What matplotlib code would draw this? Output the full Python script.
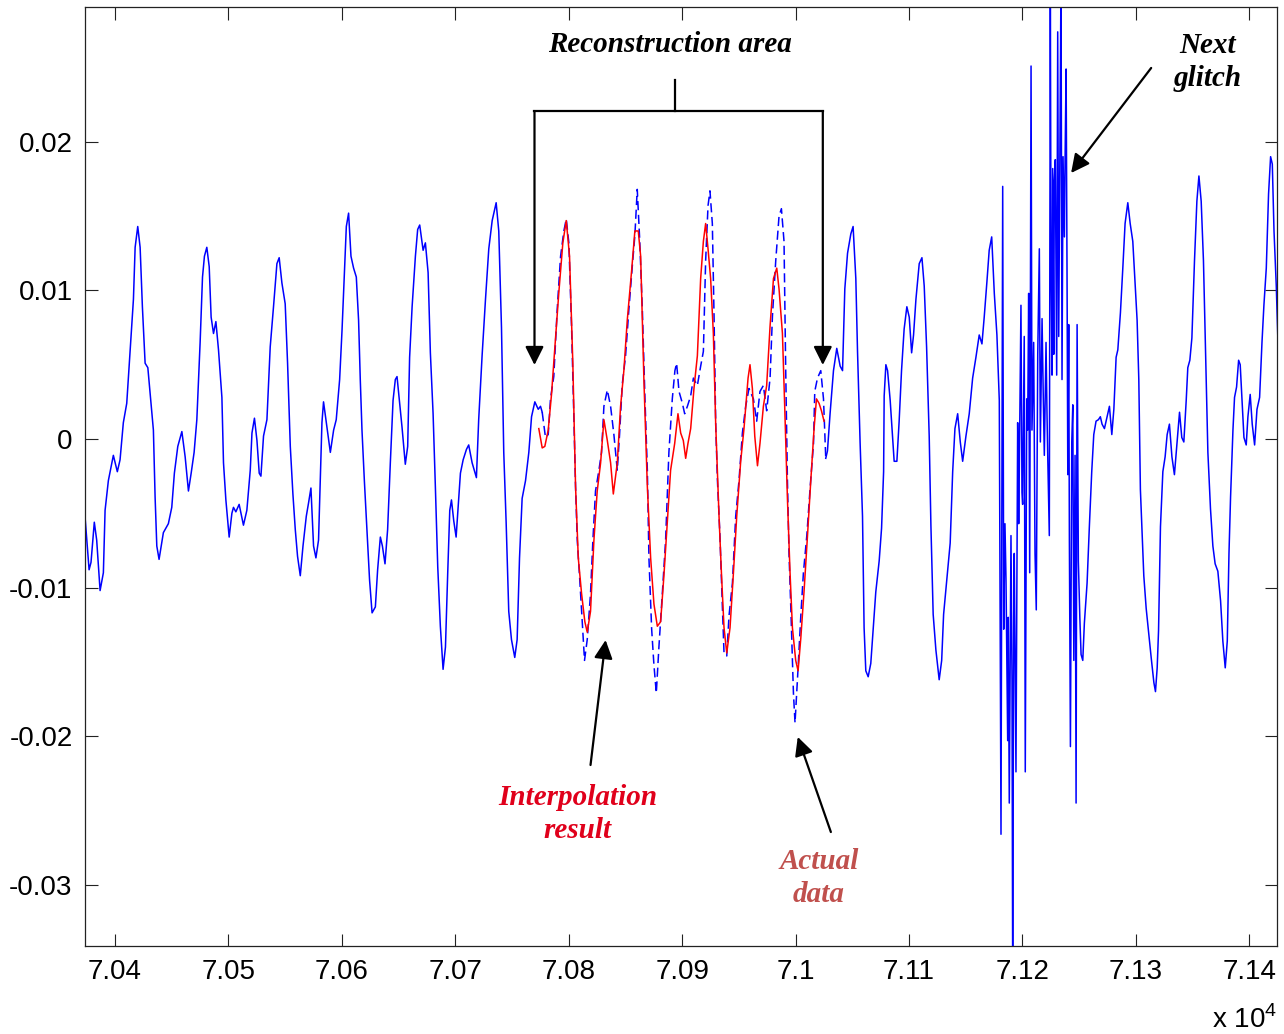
import matplotlib
matplotlib.use('Agg')
import matplotlib.pyplot as plt
from matplotlib.ticker import FuncFormatter

plt.rcParams['font.family'] = ['Liberation Sans', 'DejaVu Sans']
plt.rcParams['axes.unicode_minus'] = False
plt.rcParams['mathtext.fontset'] = 'custom'
plt.rcParams['mathtext.rm'] = 'Liberation Sans'

# measured signal before the reconstruction area
t_pre = [70373.5, 70377.1, 70378.8, 70381.7, 70383.8, 70386.8, 70389.7, 70391.2, 70394.1, 70398.5,
         70402.0, 70404.4, 70407.3, 70410.3, 70413.2, 70416.2, 70417.7, 70420.0, 70422.1, 70424.1,
         70426.5, 70428.9, 70430.9, 70433.8, 70435.3, 70436.8, 70438.8, 70442.6, 70447.0, 70450.0,
         70452.3, 70455.3, 70458.9, 70461.8, 70464.7, 70467.1, 70469.7, 70472.1, 70475.0, 70477.1,
         70478.8, 70480.9, 70483.0, 70484.7, 70486.8, 70488.9, 70491.2, 70494.2, 70495.6, 70497.7,
         70500.6, 70503.0, 70504.4, 70506.5, 70509.4, 70513.2, 70516.2, 70519.2, 70520.7, 70522.9,
         70525.1, 70527.1, 70528.6, 70530.9, 70533.9, 70536.8, 70539.7, 70542.7, 70544.7, 70547.1,
         70550.0, 70552.1, 70554.5, 70556.8, 70558.9, 70560.9, 70563.3, 70565.7, 70568.6, 70570.6,
         70572.7, 70575.0, 70577.1, 70579.4, 70580.9, 70582.4, 70583.8, 70586.8, 70589.8, 70592.7,
         70595.0, 70598.0, 70600.1, 70602.1, 70603.9, 70605.9, 70608.0, 70610.3, 70612.7, 70614.7,
         70616.2, 70617.7, 70619.8, 70622.1, 70624.4, 70626.6, 70629.5, 70631.5, 70633.9, 70635.7,
         70638.0, 70640.3, 70642.7, 70645.1, 70647.1, 70648.6, 70650.9, 70653.0, 70655.9, 70658.0,
         70659.7, 70661.9, 70664.8, 70666.8, 70668.6, 70671.6, 70673.6, 70676.0, 70678.0, 70680.4,
         70682.4, 70684.5, 70686.8, 70689.2, 70691.3, 70693.3, 70695.1, 70696.6, 70698.6, 70700.7,
         70702.5, 70704.5, 70706.9, 70709.8, 70711.8, 70714.8, 70718.6, 70720.6, 70723.6, 70726.6,
         70729.5, 70732.5, 70736.0, 70738.3, 70740.7, 70742.7, 70744.8, 70747.1, 70749.5, 70752.4,
         70754.5, 70756.6, 70758.9, 70761.9, 70764.8, 70767.2, 70770.1, 70773.1, 70775.1, 70776.6]
v_pre = [-0.0052, -0.0088, -0.0083, -0.0056, -0.0068, -0.0102, -0.0090, -0.0048, -0.0028, -0.0011,
         -0.0022, -0.0014, 0.0011, 0.0024, 0.0058, 0.0094, 0.0129, 0.0143, 0.0129, 0.0089,
         0.0051, 0.0048, 0.0031, 0.0006, -0.0039, -0.0072, -0.0081, -0.0063, -0.0057, -0.0046,
         -0.0023, -0.0005, 0.0005, -0.0012, -0.0035, -0.0023, -0.0009, 0.0013, 0.0065, 0.0109,
         0.0123, 0.0129, 0.0116, 0.0082, 0.0071, 0.0079, 0.0060, 0.0028, -0.0016, -0.0041,
         -0.0066, -0.0050, -0.0046, -0.0049, -0.0044, -0.0058, -0.0048, -0.0021, 0.0004, 0.0014,
         -0.0001, -0.0023, -0.0025, 0.0002, 0.0013, 0.0062, 0.0089, 0.0118, 0.0122, 0.0105,
         0.0091, 0.0051, -0.0005, -0.0037, -0.0061, -0.0079, -0.0092, -0.0072, -0.0052, -0.0043,
         -0.0033, -0.0072, -0.0080, -0.0068, -0.0028, 0.0011, 0.0025, 0.0008, -0.0009, 0.0006,
         0.0013, 0.0040, 0.0073, 0.0109, 0.0143, 0.0152, 0.0123, 0.0115, 0.0109, 0.0080,
         0.0040, 0.0006, -0.0028, -0.0061, -0.0095, -0.0117, -0.0113, -0.0088, -0.0066, -0.0072,
         -0.0084, -0.0061, -0.0016, 0.0026, 0.0040, 0.0042, 0.0024, 0.0008, -0.0017, -0.0005,
         0.0055, 0.0089, 0.0123, 0.0141, 0.0144, 0.0127, 0.0132, 0.0112, 0.0058, 0.0017,
         -0.0032, -0.0086, -0.0126, -0.0155, -0.0140, -0.0090, -0.0048, -0.0041, -0.0055, -0.0066,
         -0.0046, -0.0023, -0.0014, -0.0007, -0.0004, -0.0016, -0.0026, 0.0013, 0.0056, 0.0094,
         0.0128, 0.0147, 0.0159, 0.0140, 0.0075, -0.0009, -0.0056, -0.0116, -0.0135, -0.0147,
         -0.0135, -0.0080, -0.0040, -0.0028, -0.0009, 0.0015, 0.0025, 0.0020, 0.0022, 0.0018]

# actual data inside the reconstruction area
t_gap = [70776.6, 70779.5, 70781.9, 70783.9, 70786.8, 70789.8, 70792.8, 70795.7, 70797.8, 70800.1,
         70802.5, 70804.5, 70806.0, 70807.5, 70809.5, 70811.9, 70813.9, 70816.3, 70819.2, 70821.3,
         70823.6, 70826.6, 70828.9, 70831.0, 70834.0, 70836.9, 70839.8, 70842.8, 70844.8, 70847.2,
         70850.1, 70853.0, 70856.0, 70858.3, 70860.4, 70862.5, 70864.9, 70867.2, 70869.3, 70870.7,
         70873.1, 70875.1, 70877.2, 70879.5, 70882.5, 70885.4, 70888.3, 70891.3, 70893.6, 70895.1,
         70897.2, 70900.2, 70902.2, 70904.6, 70907.5, 70909.9, 70913.4, 70916.3, 70918.7, 70920.7,
         70922.8, 70924.5, 70926.6, 70928.1, 70929.6, 70931.1, 70933.3, 70935.5, 70936.9, 70939.3,
         70941.3, 70944.3, 70947.2, 70950.1, 70953.1, 70956.0, 70958.9, 70962.8, 70965.7, 70968.6,
         70971.6, 70974.5, 70977.5, 70979.6, 70982.5, 70985.4, 70987.5, 70989.8, 70991.3, 70992.8,
         70994.2, 70995.8, 70998.1, 70999.5, 71001.7, 71004.6, 71006.9, 71009.9, 71012.8, 71015.8,
         71016.9, 71019.3, 71022.2, 71024.6, 71026.6]
v_gap = [0.0018, 0.0001, 0.0003, 0.0027, 0.0042, 0.0087, 0.0123, 0.0140, 0.0148, 0.0132,
         0.0075, 0.0015, -0.0032, -0.0068, -0.0092, -0.0123, -0.0149, -0.0135, -0.0104, -0.0068,
         -0.0035, -0.0021, -0.0009, 0.0022, 0.0033, 0.0022, 0.0003, -0.0021, 0.0003, 0.0037,
         0.0056, 0.0087, 0.0116, 0.0137, 0.0168, 0.0135, 0.0087, 0.0027, -0.0021, -0.0080,
         -0.0128, -0.0152, -0.0171, -0.0140, -0.0104, -0.0068, -0.0009, 0.0027, 0.0046, 0.0051,
         0.0032, 0.0024, 0.0017, 0.0022, 0.0029, 0.0041, 0.0036, 0.0049, 0.0059, 0.0120,
         0.0157, 0.0167, 0.0145, 0.0083, 0.0009, -0.0028, -0.0065, -0.0114, -0.0144, -0.0146,
         -0.0119, -0.0097, -0.0052, -0.0028, 0.0004, 0.0022, 0.0034, 0.0027, 0.0012, 0.0032,
         0.0036, 0.0019, 0.0041, 0.0083, 0.0120, 0.0150, 0.0155, 0.0133, 0.0046, -0.0028,
         -0.0077, -0.0114, -0.0171, -0.0191, -0.0161, -0.0119, -0.0090, -0.0065, -0.0033, -0.0003,
         0.0032, 0.0041, 0.0046, 0.0027, -0.0013]

# measured signal after the reconstruction area, including the next glitch
t_post = [71026.6, 71028.1, 71030.4, 71033.4, 71036.3, 71039.3, 71041.4, 71043.4, 71045.8, 71048.7,
          71050.7, 71053.1, 71054.6, 71056.9, 71059.0, 71060.4, 71061.9, 71064.0, 71066.3, 71068.7,
          71070.7, 71073.7, 71075.8, 71077.6, 71078.1, 71079.6, 71081.1, 71083.4, 71085.5, 71086.9,
          71089.3, 71091.3, 71093.4, 71095.7, 71098.1, 71100.2, 71102.3, 71104.0, 71106.1, 71109.0,
          71111.4, 71113.4, 71115.5, 71117.8, 71119.3, 71121.3, 71123.7, 71126.6, 71128.8, 71130.5,
          71133.4, 71136.3, 71138.5, 71140.5, 71142.9, 71145.2, 71147.3, 71150.2, 71153.1, 71156.1,
          71159.0, 71161.9, 71164.3, 71166.3, 71168.7, 71170.7, 71172.9, 71175.2, 71177.5, 71179.6,
          71181.1, 71182.6, 71183.5, 71184.6, 71185.5, 71187.0, 71187.5, 71188.4, 71189.9, 71190.8,
          71191.4, 71192.3, 71192.8, 71194.3, 71195.2, 71195.8, 71196.7, 71197.2, 71198.7, 71199.6,
          71200.2, 71201.6, 71202.5, 71203.8, 71204.6, 71205.5, 71206.4, 71207.6, 71208.4, 71209.9,
          71211.1, 71212.2, 71213.5, 71214.9, 71215.8, 71217.3, 71218.4, 71219.3, 71220.8, 71221.7,
          71222.3, 71223.7, 71224.6, 71225.2, 71226.1, 71226.7, 71227.6, 71228.1, 71229.0, 71230.2,
          71231.1, 71232.0, 71233.1, 71234.0, 71234.9, 71235.8, 71237.0, 71237.6, 71238.5, 71239.3,
          71240.0, 71240.8, 71241.4, 71242.3, 71243.5, 71244.4, 71245.3, 71246.4, 71247.3, 71248.2,
          71249.3, 71250.6, 71251.7, 71253.2, 71254.6, 71257.0, 71259.0, 71261.1, 71262.9, 71264.9,
          71267.0, 71268.7, 71270.2, 71272.3, 71274.6, 71276.7, 71278.8, 71280.6, 71282.6, 71284.1,
          71286.4, 71288.5, 71290.5, 71292.9, 71295.0, 71297.3, 71299.4, 71301.1, 71302.6, 71304.0,
          71305.3, 71307.0, 71309.1, 71311.1, 71313.5, 71315.9, 71317.3, 71318.8, 71320.0, 71321.7,
          71323.8, 71325.8, 71327.6, 71329.6, 71331.8, 71334.0, 71336.4, 71338.5, 71340.5, 71342.3,
          71344.4, 71345.8, 71347.6, 71349.4, 71351.7, 71353.8, 71355.6, 71357.6, 71359.6, 71362.0,
          71363.5, 71365.8, 71367.9, 71369.9, 71372.3, 71374.7, 71376.7, 71378.8, 71380.6, 71382.1,
          71383.5, 71385.6, 71387.0, 71388.8, 71390.6, 71392.0, 71393.5, 71395.3, 71397.3, 71398.8,
          71400.8, 71402.6, 71404.7, 71406.8, 71409.1, 71411.2, 71412.9, 71415.0, 71417.0, 71418.8,
          71420.3, 71421.8, 71423.8, 71425.3]
v_post = [-0.0013, -0.0008, 0.0017, 0.0046, 0.0061, 0.0049, 0.0046, 0.0101, 0.0125, 0.0138,
          0.0143, 0.0108, 0.0059, -0.0003, -0.0052, -0.0127, -0.0156, -0.0160, -0.0151, -0.0125,
          -0.0103, -0.0082, -0.0060, -0.0022, 0.0029, 0.0050, 0.0046, 0.0026, 0.0002, -0.0015,
          -0.0015, 0.0012, 0.0046, 0.0074, 0.0089, 0.0082, 0.0058, 0.0070, 0.0094, 0.0118,
          0.0122, 0.0103, 0.0062, 0.0002, -0.0058, -0.0118, -0.0142, -0.0162, -0.0149, -0.0118,
          -0.0094, -0.0070, -0.0022, 0.0007, 0.0017, -0.0002, -0.0015, 0.0002, 0.0017, 0.0041,
          0.0055, 0.0070, 0.0064, 0.0082, 0.0106, 0.0127, 0.0136, 0.0098, 0.0070, 0.0026,
          -0.0266, 0.0170, -0.0128, -0.0057, -0.0094, -0.0203, -0.0120, -0.0245, -0.0065, -0.0162,
          -0.0360, -0.0120, -0.0077, -0.0224, -0.0077, 0.0011, -0.0057, -0.0024, 0.0090, -0.0036,
          -0.0044, 0.0069, -0.0224, 0.0027, 0.0006, 0.0098, -0.0090, 0.0251, 0.0006, 0.0065,
          -0.0077, -0.0115, 0.0057, 0.0128, -0.0002, 0.0081, 0.0027, -0.0011, 0.0065, 0.0015,
          -0.0011, -0.0065, 0.0295, 0.0124, 0.0043, 0.0182, 0.0057, 0.0174, 0.0188, 0.0043,
          0.0274, 0.0069, 0.0203, 0.0310, 0.0040, 0.0190, 0.0136, 0.0188, 0.0249, 0.0115,
          -0.0024, 0.0077, -0.0069, -0.0207, -0.0002, 0.0023, -0.0149, -0.0011, -0.0245, 0.0077,
          -0.0082, -0.0120, -0.0145, -0.0149, -0.0124, -0.0097, -0.0059, -0.0022, 0.0003, 0.0012,
          0.0013, 0.0015, 0.0010, 0.0007, 0.0015, 0.0022, 0.0003, 0.0020, 0.0055, 0.0060,
          0.0085, 0.0115, 0.0145, 0.0159, 0.0145, 0.0133, 0.0103, 0.0080, 0.0040, -0.0034,
          -0.0059, -0.0092, -0.0114, -0.0129, -0.0147, -0.0164, -0.0170, -0.0154, -0.0129, -0.0059,
          -0.0022, -0.0012, 0.0003, 0.0010, -0.0012, -0.0024, -0.0002, 0.0018, 0.0001, -0.0002,
          0.0026, 0.0048, 0.0053, 0.0068, 0.0120, 0.0160, 0.0177, 0.0160, 0.0120, 0.0040,
          -0.0009, -0.0047, -0.0072, -0.0084, -0.0089, -0.0109, -0.0136, -0.0154, -0.0136, -0.0077,
          -0.0039, 0.0006, 0.0028, 0.0035, 0.0053, 0.0050, 0.0028, 0.0001, -0.0004, 0.0015,
          0.0030, 0.0010, -0.0004, 0.0020, 0.0028, 0.0065, 0.0090, 0.0115, 0.0165, 0.0190,
          0.0185, 0.0140, 0.0103, 0.0065]

# interpolated reconstruction
t_interp = [70773.6, 70776.6, 70778.9, 70781.9, 70784.8, 70787.7, 70791.3, 70794.8, 70797.8, 70800.7,
            70803.6, 70806.0, 70808.4, 70811.3, 70814.2, 70816.3, 70819.2, 70822.2, 70825.1, 70828.1,
            70831.0, 70834.0, 70836.9, 70839.3, 70841.3, 70842.8, 70845.7, 70848.6, 70851.6, 70855.4,
            70858.3, 70861.3, 70863.4, 70866.3, 70869.3, 70872.2, 70875.1, 70878.1, 70881.0, 70883.9,
            70886.9, 70889.8, 70893.4, 70896.3, 70898.7, 70901.0, 70903.1, 70905.1, 70907.5, 70910.4,
            70913.4, 70916.3, 70918.7, 70920.7, 70922.8, 70925.1, 70927.5, 70929.6, 70932.5, 70934.6,
            70936.9, 70939.3, 70942.2, 70945.2, 70948.1, 70951.6, 70954.5, 70958.1, 70959.8, 70961.9,
            70964.0, 70966.4, 70968.6, 70971.6, 70974.5, 70977.5, 70980.5, 70983.4, 70985.4, 70988.4,
            70990.4, 70992.8, 70995.1, 70997.2, 71000.1, 71002.2, 71004.6, 71007.5, 71010.5, 71013.4,
            71016.3, 71018.4, 71020.7, 71022.8, 71025.1]
v_interp = [0.0007, -0.0006, -0.0005, 0.0006, 0.0030, 0.0061, 0.0099, 0.0132, 0.0147, 0.0123,
            0.0051, -0.0032, -0.0080, -0.0104, -0.0123, -0.0130, -0.0116, -0.0068, -0.0035, -0.0016,
            0.0013, -0.0001, -0.0016, -0.0037, -0.0025, -0.0016, 0.0022, 0.0046, 0.0080, 0.0113,
            0.0140, 0.0140, 0.0123, 0.0039, -0.0032, -0.0080, -0.0111, -0.0126, -0.0123, -0.0092,
            -0.0056, -0.0021, -0.0003, 0.0017, 0.0004, -0.0001, -0.0013, -0.0003, 0.0007, 0.0034,
            0.0056, 0.0108, 0.0133, 0.0145, 0.0128, 0.0108, 0.0071, 0.0009, -0.0052, -0.0090,
            -0.0127, -0.0144, -0.0127, -0.0090, -0.0052, -0.0015, 0.0007, 0.0041, 0.0050, 0.0034,
            0.0002, -0.0018, -0.0003, 0.0022, 0.0036, 0.0076, 0.0108, 0.0115, 0.0101, 0.0071,
            0.0022, -0.0040, -0.0090, -0.0127, -0.0149, -0.0156, -0.0134, -0.0102, -0.0065, -0.0028,
            0.0007, 0.0027, 0.0024, 0.0019, 0.0012]

x_ticks = [70400, 70500, 70600, 70700, 70800, 70900, 71000, 71100, 71200, 71300, 71400]
y_ticks = [-0.03, -0.02, -0.01, 0, 0.01, 0.02]

fig = plt.figure(figsize=(12.84, 10.34), dpi=100)
ax = fig.add_axes([0.0662, 0.0851, 0.9284, 0.9081])

ax.plot(t_pre, v_pre, color='#0000ff', lw=1.1)
ax.plot(t_post, v_post, color='#0000ff', lw=1.1)
ax.plot(t_gap, v_gap, color='#0000ff', lw=1.1, ls=(0, (6, 3)))
ax.plot(t_interp, v_interp, color='#ff0000', lw=1.1)

ax.set_xlim(70373.5, 71424.5)
ax.set_ylim(-0.03412, 0.02907)
ax.set_xticks(x_ticks)
ax.set_yticks(y_ticks)
ax.xaxis.set_major_formatter(FuncFormatter(lambda v, p: '%g' % (v / 1e4)))
ax.yaxis.set_major_formatter(FuncFormatter(lambda v, p: '%g' % v))
ax.tick_params(direction='in', length=9, width=0.8, labelsize=20, pad=9,
               top=True, right=True, colors='#222222', labelcolor='black')
for s in ax.spines.values():
    s.set_linewidth(0.9)
    s.set_color('#222222')

ax.text(1.0, -0.079, r'x 10$^{\mathregular{4}}$', transform=ax.transAxes,
        ha='right', va='center', fontsize=20)

ann = dict(family=['Liberation Serif', 'DejaVu Serif'], weight='bold', style='italic', fontsize=21)
head = dict(arrowstyle='-|>', color='black', lw=1.6, mutation_scale=28, shrinkA=0, shrinkB=0)

# bracket over the reconstruction area
bx0, bx1, bxm = 70769.8, 71024.0, 70893.5
ax.plot([bx0, bx1], [0.02207, 0.02207], color='black', lw=1.6)
ax.plot([bxm, bxm], [0.02207, 0.02416], color='black', lw=1.6)
ax.annotate('', xy=(bx0, 0.00498), xytext=(bx0, 0.02207), arrowprops=head)
ax.annotate('', xy=(bx1, 0.00498), xytext=(bx1, 0.02207), arrowprops=head)
ax.text(bxm - 4, 0.02658, 'Reconstruction area', ha='center', va='center', color='black', **ann)

ax.annotate('', xy=(71242.9, 0.0179), xytext=(71313.5, 0.02497), arrowprops=head)
ax.text(71363, 0.02537, 'Next\nglitch', ha='center', va='center', linespacing=1.3,
        color='black', **ann)

ax.annotate('', xy=(70832.5, -0.01353), xytext=(70819.2, -0.02194), arrowprops=head)
ax.text(70807.8, -0.02524, 'Interpolation\nresult', ha='center', va='center', linespacing=1.3,
        color='#e0001b', **ann)

ax.annotate('', xy=(71001.9, -0.02005), xytext=(71031.1, -0.02645), arrowprops=head)
ax.text(71020.5, -0.02954, 'Actual\ndata', ha='center', va='center', linespacing=1.3,
        color='#c0504d', **ann)

fig.savefig('out.png', dpi=100)
